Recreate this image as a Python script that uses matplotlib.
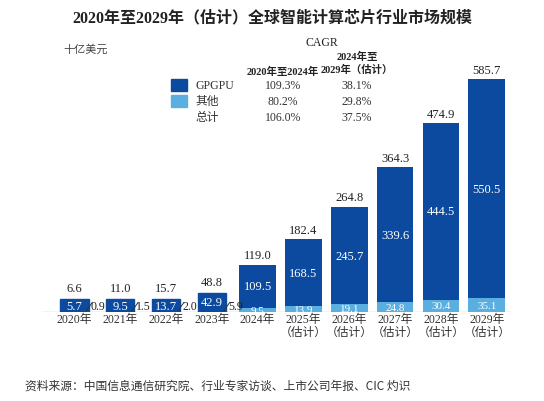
import matplotlib.pyplot as plt
from matplotlib.patches import Rectangle

plt.rcParams['font.family'] = ['Liberation Serif', 'Noto Sans CJK SC', 'DejaVu Sans']

years = ["2020年", "2021年", "2022年", "2023年", "2024年",
         "2025年\n（估计）", "2026年\n（估计）", "2027年\n（估计）", "2028年\n（估计）", "2029年\n（估计）"]
gpgpu = [5.7, 9.5, 13.7, 42.9, 109.5, 168.5, 245.7, 339.6, 444.5, 550.5]
other = [0.9, 1.5, 2.0, 5.9, 9.5, 13.9, 19.1, 24.8, 30.4, 35.1]
total = [6.6, 11.0, 15.7, 48.8, 119.0, 182.4, 264.8, 364.3, 474.9, 585.7]

cagr_rows = [("GPGPU", "109.3%", "38.1%"), ("其他", "80.2%", "29.8%"), ("总计", "106.0%", "37.5%")]

dark = "#0b4a9e"
light = "#5aafe0"

fig = plt.figure(figsize=(5.44, 4.02), dpi=100)
fig.patch.set_facecolor("white")
ax = fig.add_axes([40 / 544, 89 / 402, 472 / 544, 253 / 402])
x = list(range(len(years)))
w = 0.8
ws = 0.62

big = [i for i in x if i >= 4]
ax.bar(big, [other[i] for i in big], width=w, color=light, zorder=3)
ax.bar(big, [gpgpu[i] for i in big], width=w, bottom=[other[i] for i in big], color=dark, zorder=3)
ax.set_xlim(-0.75, len(years) - 0.45)
ax.set_ylim(0, 636)
ax.hlines(0, -0.7, len(years) - 0.5, color="#333333", linewidth=0.8, zorder=2)

for i in x:
    if i < 4:
        # small bars: value shown in a dark box sitting on the baseline
        box_h = max(gpgpu[i] + other[i], 32)
        ax.add_patch(Rectangle((i - ws / 2, 0), ws, box_h, color=dark, zorder=4))
        ax.text(i, box_h / 2, f"{gpgpu[i]:.1f}", ha="center", va="center",
                fontsize=9, color="white", zorder=5)
        ax.text(i, box_h + 12, f"{total[i]:.1f}", ha="center", va="bottom", fontsize=9, color="#222222")
        ax.plot([i + ws / 2 - 0.05, i + ws / 2 + 0.08], [3, 24], color="#333333", lw=0.7, zorder=5)
        ax.text(i + ws / 2 + 0.04, 16, f"{other[i]:.1f}", ha="left", va="center", fontsize=8.5, color="#222222")
    else:
        ax.text(i, total[i] + 8, f"{total[i]:.1f}", ha="center", va="bottom", fontsize=9, color="#222222")
        ax.text(i, other[i] + gpgpu[i] / 2, f"{gpgpu[i]:.1f}", ha="center", va="center",
                fontsize=9, color="white", zorder=5)
        ax.text(i, other[i] / 2, f"{other[i]:.1f}", ha="center", va="center",
                fontsize=8, color="white", zorder=5)

ax.set_xticks(x)
ax.set_xticklabels(years, fontsize=8.5, color="#333333", linespacing=1.1)
ax.tick_params(axis="x", length=0, pad=1)
ax.set_yticks([])
for s in ax.spines.values():
    s.set_visible(False)

fig.text(0.5, 0.975, "2020年至2029年（估计）全球智能计算芯片行业市场规模", ha="center", va="top",
         fontsize=11.5, fontweight="bold", color="#222222")
fig.text(63 / 544, 1 - 50 / 402, "十亿美元", ha="left", va="center", fontsize=8, color="#444444")

# legend / CAGR table
fig.text(322 / 544, 1 - 43 / 402, "CAGR", ha="center", va="center", fontsize=8.5, color="#222222")
fig.text(283 / 544, 1 - 72 / 402, "2020年至2024年", ha="center", va="center", fontsize=7.5,
         fontweight="bold", color="#222222")
fig.text(357 / 544, 1 - 57 / 402, "2024年至", ha="center", va="center", fontsize=7.5,
         fontweight="bold", color="#222222")
fig.text(357 / 544, 1 - 70 / 402, "2029年（估计）", ha="center", va="center", fontsize=7.5,
         fontweight="bold", color="#222222")
for j, (name, a, b) in enumerate(cagr_rows):
    yy = 1 - (86 + j * 16) / 402
    if j < 2:
        fig.patches.append(Rectangle((171 / 544, yy - 6 / 402), 16 / 544, 12 / 402,
                                     transform=fig.transFigure, color=[dark, light][j]))
    fig.text(195 / 544, yy, name, ha="left", va="center", fontsize=8.5, color="#333333")
    fig.text(283 / 544, yy, a, ha="center", va="center", fontsize=8.5, color="#333333")
    fig.text(357 / 544, yy, b, ha="center", va="center", fontsize=8.5, color="#333333")

fig.text(25 / 544, 1 - 386 / 402, "资料来源：中国信息通信研究院、行业专家访谈、上市公司年报、CIC 灼识",
         ha="left", va="center", fontsize=8.5, style="italic", color="#333333",
         family=['Noto Sans CJK SC', 'DejaVu Sans'])

fig.savefig("out.png", dpi=100)
